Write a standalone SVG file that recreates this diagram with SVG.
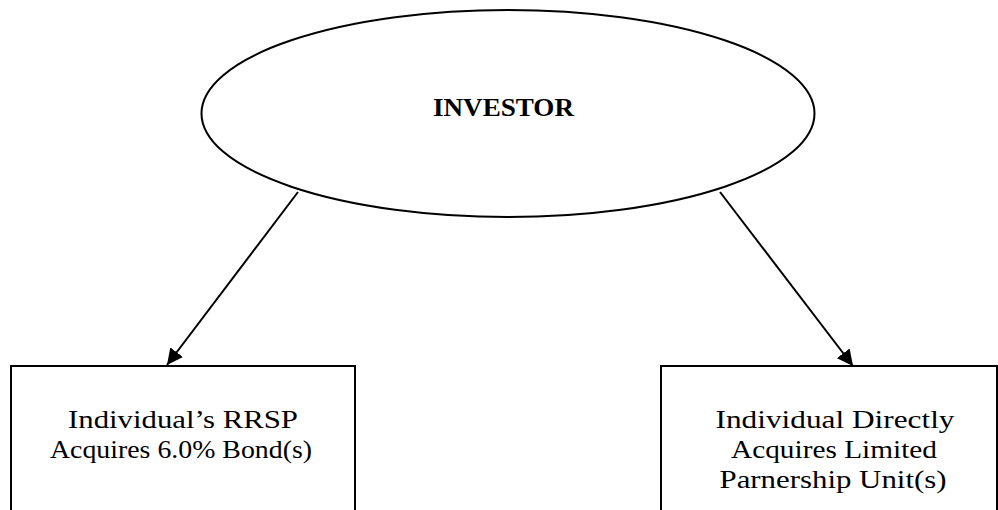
<svg xmlns="http://www.w3.org/2000/svg" width="998" height="510" viewBox="0 0 998 510">
<defs>
<style>
.shape{fill:#fff;stroke:#000;stroke-width:2}
.lbl{font-family:"Palatino Linotype","Book Antiqua","Liberation Serif","DejaVu Serif",serif;font-size:26px;fill:#000;text-anchor:middle}
.title{font-weight:bold}
.conn{stroke:#000;stroke-width:2;fill:none;marker-end:url(#ah)}
</style>
<marker id="ah" viewBox="0 0 10 10" refX="10" refY="5" markerWidth="8" markerHeight="8" markerUnits="strokeWidth" orient="auto">
<path d="M0,0 L10,5 L0,10 z" fill="#000"/>
</marker>
</defs>
<rect width="998" height="510" fill="#fff"/>
<g id="investor">
<ellipse class="shape" cx="508" cy="113.5" rx="306.5" ry="103.5"/>
<text class="lbl title" x="503.5" y="116" textLength="141" lengthAdjust="spacingAndGlyphs">INVESTOR</text>
</g>
<g id="rrsp">
<rect class="shape" x="11" y="366" width="344" height="160"/>
<text class="lbl" x="183" y="428" textLength="230" lengthAdjust="spacingAndGlyphs">Individual’s  RRSP</text>
<text class="lbl" x="181" y="458" textLength="262" lengthAdjust="spacingAndGlyphs">Acquires 6.0% Bond(s)</text>
</g>
<g id="direct">
<rect class="shape" x="661" y="366" width="336" height="160"/>
<text class="lbl" x="835" y="428" textLength="239" lengthAdjust="spacingAndGlyphs">Individual  Directly</text>
<text class="lbl" x="834" y="458" textLength="206" lengthAdjust="spacingAndGlyphs">Acquires Limited</text>
<text class="lbl" x="833" y="488" textLength="227" lengthAdjust="spacingAndGlyphs">Parnership  Unit(s)</text>
</g>
<g id="connectors">
<line class="conn" x1="298" y1="192" x2="167" y2="365"/>
<line class="conn" x1="720" y1="192" x2="853" y2="366"/>
</g>
</svg>
